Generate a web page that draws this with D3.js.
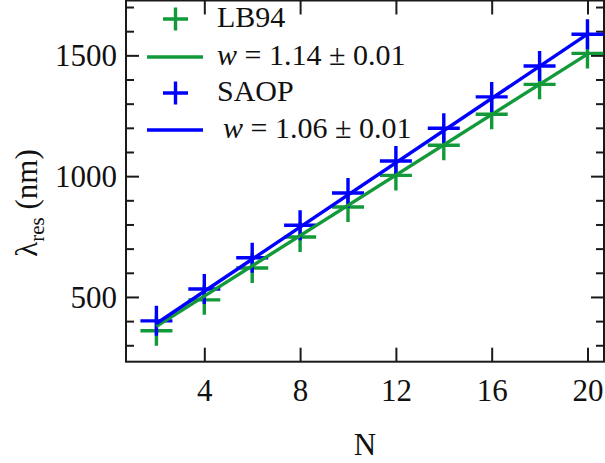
<!DOCTYPE html>
<html>
<head>
<meta charset="utf-8">
<script src="https://cdn.jsdelivr.net/npm/d3@7"></script>
<style>
  html, body { margin: 0; padding: 0; background: #fff; }
  svg { display: block; }
</style>
</head>
<body>
<svg id="chart" width="605" height="463"></svg>
<script>
// Resonance wavelength vs. chain length N for two functionals
const nValues = [2, 4, 6, 8, 10, 12, 14, 16, 18, 20];
const lb94 = [360, 488, 620, 748, 872, 1003, 1128, 1256, 1380, 1508];
const saop = [401, 533, 662, 797, 930, 1063, 1198, 1328, 1456, 1587];

// Linear fits (end points over the plotted N range)
const fitN = [2, 20];
const fitLB94 = [378, 1505];
const fitSAOP = [390, 1588];

const xTicks = [4, 8, 12, 16, 20];
const yMajor = [500, 1000, 1500];
const yMinor = [300, 400, 600, 700, 800, 900, 1100, 1200, 1300, 1400, 1600, 1700];

const legendLabels = ["LB94", "w = 1.14 ± 0.01", "SAOP", "w = 1.06 ± 0.01"];

const GREEN = "#12993a";
const BLUE = "#0000ff";
const FRAME = "#1a1a1a";
const SERIF = '"Liberation Serif", "Times New Roman", "DejaVu Serif", serif';

const svg = d3.select("#chart").style("font-family", SERIF);
const plotLeft = 126, plotRight = 604, plotTop = 0.5, plotBottom = 361.7;

const x = d3.scaleLinear().domain([0.73, 20.69]).range([plotLeft, plotRight]);
const y = d3.scaleLinear().domain([232, 1727]).range([plotBottom, plotTop]);

// Axes with ticks pointing inward on all four sides
const axisStyle = g => {
  g.attr("font-family", null).attr("font-size", null);
  g.select(".domain").remove();
  g.selectAll(".tick line").attr("stroke", FRAME).attr("stroke-width", 2);
  g.selectAll("text").style("font-family", SERIF).attr("font-size", 31).attr("fill", "#111");
};

svg.append("g").attr("transform", `translate(0,${plotBottom})`)
  .call(d3.axisBottom(x).tickValues(xTicks).tickSize(-14).tickPadding(17).tickFormat(d3.format("d")))
  .call(axisStyle)
  .call(g => g.selectAll("text").attr("dy", "0.71em"));

svg.append("g").attr("transform", `translate(0,${plotTop})`)
  .call(d3.axisTop(x).tickValues(xTicks).tickSize(-14).tickFormat(""))
  .call(axisStyle);

svg.append("g").attr("transform", `translate(${plotLeft},0)`)
  .call(d3.axisLeft(y).tickValues(yMajor).tickSize(-13).tickPadding(9).tickFormat(d3.format("d")))
  .call(axisStyle)
  .call(g => g.selectAll("text").attr("dy", "0.34em"));

svg.append("g").attr("transform", `translate(${plotLeft},0)`)
  .call(d3.axisLeft(y).tickValues(yMinor).tickSize(-8).tickFormat(""))
  .call(axisStyle);

svg.append("g").attr("transform", `translate(${plotRight},0)`)
  .call(d3.axisRight(y).tickValues(yMajor).tickSize(-13).tickFormat(""))
  .call(axisStyle);

svg.append("g").attr("transform", `translate(${plotRight},0)`)
  .call(d3.axisRight(y).tickValues(yMinor).tickSize(-8).tickFormat(""))
  .call(axisStyle);

// Frame
svg.append("rect")
  .attr("x", plotLeft).attr("y", plotTop)
  .attr("width", plotRight - plotLeft).attr("height", plotBottom - plotTop)
  .attr("fill", "none").attr("stroke", FRAME).attr("stroke-width", 2);

// Plus-shaped markers
function plus(g, cx, cy, hw, hh, color, sw) {
  g.append("path")
    .attr("d", `M${cx - hw},${cy}H${cx + hw}M${cx},${cy - hh}V${cy + hh}`)
    .attr("stroke", color).attr("stroke-width", sw).attr("fill", "none");
}

const marks = svg.append("g");
nValues.forEach((n, i) => plus(marks, x(n), y(lb94[i]), 16, 15, GREEN, 3.4));
nValues.forEach((n, i) => plus(marks, x(n), y(saop[i]), 16, 15, BLUE, 3.4));

// Fit lines
const line = d3.line().x(d => x(d[0])).y(d => y(d[1]));
svg.append("path").datum(fitN.map((n, i) => [n, fitLB94[i]]))
  .attr("d", line).attr("stroke", GREEN).attr("stroke-width", 3.4).attr("fill", "none");
svg.append("path").datum(fitN.map((n, i) => [n, fitSAOP[i]]))
  .attr("d", line).attr("stroke", BLUE).attr("stroke-width", 3.4).attr("fill", "none");

// Legend
const lg = svg.append("g");
plus(lg, 175.5, 19, 12.5, 11.5, GREEN, 3.4);
lg.append("line").attr("x1", 147).attr("x2", 203).attr("y1", 57).attr("y2", 57)
  .attr("stroke", GREEN).attr("stroke-width", 3.6);
plus(lg, 175.5, 93, 12.5, 11.5, BLUE, 3.4);
lg.append("line").attr("x1", 147).attr("x2", 203).attr("y1", 130).attr("y2", 130)
  .attr("stroke", BLUE).attr("stroke-width", 3.6);

function label(xPos, yPos, str) {
  return lg.append("text").attr("x", xPos).attr("y", yPos)
    .style("font-family", SERIF).attr("font-size", 30).attr("fill", "#111").text(str);
}
label(217, 27, legendLabels[0]);
label(217, 101, legendLabels[2]);

function fitLabel(xPos, yPos, str) {
  const t = label(xPos, yPos, "");
  t.append("tspan").attr("font-style", "italic").text(str.slice(0, 1));
  t.append("tspan").text(str.slice(1));
}
fitLabel(217, 64.5, legendLabels[1]);
fitLabel(223, 138, legendLabels[3]);

// Axis titles
svg.append("text").attr("x", 365).attr("y", 455).attr("text-anchor", "middle")
  .style("font-family", SERIF).attr("font-size", 31).attr("fill", "#111").text("N");

const yt = svg.append("text")
  .attr("transform", "translate(37,203) rotate(-90)")
  .attr("text-anchor", "middle").style("font-family", SERIF)
  .attr("font-size", 31).attr("fill", "#111");
yt.append("tspan").text("λ");
yt.append("tspan").attr("font-size", 21).attr("dy", 7).text("res");
yt.append("tspan").attr("dy", -7).text(" (nm)");
</script>
</body>
</html>
